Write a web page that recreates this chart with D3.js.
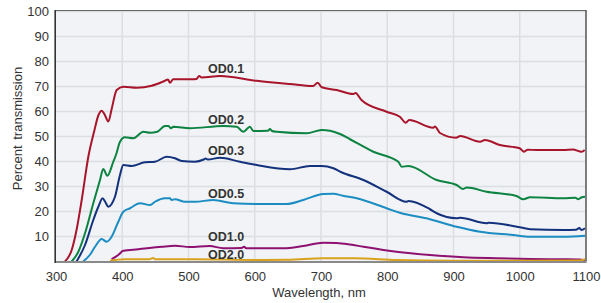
<!DOCTYPE html>
<html><head><meta charset="utf-8">
<script src="https://cdn.jsdelivr.net/npm/d3@7"></script>
<style>body{margin:0;background:#fff}svg{display:block}</style>
</head><body>
<svg id="c" width="601" height="303"></svg>
<script>
const xTicks = [300,400,500,600,700,800,900,1000,1100];
const yTicks = [10,20,30,40,50,60,70,80,90,100];
const seriesNames = ["OD0.1","OD0.2","OD0.3","OD0.5","OD1.0","OD2.0"];
const od01 = [[313.6,0],[323.7,4.6],[331,12.6],[338.8,24.6],[348.8,41.9],[358,52.5],[364,58.5],[369,60.3],[373,59],[379,56],[384,61],[391.6,68.6],[401.6,69.9],[421.8,69.5],[444.4,70.3],[464.5,72.3],[469,72.8],[472,71.5],[477,72.9],[504.8,72.9],[512,73],[516,74.2],[520,73.6],[547.5,74.2],[603,72.3],[653,71],[688,70.2],[695,71.5],[701,69.7],[723.7,68.6],[748.8,67],[752,67.4],[761,64.6],[799,59.9],[819,57.9],[828,55.5],[833,56.6],[869.5,53.5],[872,54],[879.6,51.4],[904,49.5],[910,50.2],[940,47.9],[947.5,48.6],[970,46.6],[1000,45.3],[1006,43.9],[1012,44.7],[1025.6,44.6],[1066,44.6],[1080,44.8],[1093.5,43.9],[1098,44.6]];
const od02 = [[323.7,0],[333.7,3.9],[343.8,11.3],[356.3,23.3],[366.4,32.6],[371.4,37],[377.4,34.3],[386.5,39.9],[391,43],[396.6,47.9],[404,49.7],[416.7,49.3],[431.8,51.9],[442,51.5],[453,51.9],[464.5,54.2],[469.5,54.2],[473.6,53.3],[477,53.9],[502,53.3],[552.5,54.2],[572.7,53.9],[582.7,51.9],[592.8,53.9],[597.8,52.2],[620,52.3],[623,53],[626,52.2],[633,51.9],[678.4,51.3],[701,52.6],[713.6,52.3],[728.7,51],[743.8,48.9],[779,43.9],[816.7,39.9],[821.8,37.9],[831.8,38.2],[874.6,32.6],[904.8,30.6],[914,29],[920,29.6],[950,27.9],[995,26.2],[1005.4,24.9],[1015.5,25.7],[1066,25.3],[1084,25.5],[1088.4,24.9],[1093,25.6],[1098.5,25.9]];
const od03 = [[331,0],[343.8,6.6],[356.3,16.6],[363.9,21.9],[370.4,25.3],[374,24],[379,21.9],[384,23],[389,25.9],[396.6,34.6],[401.6,38.6],[414.2,38.2],[434.3,39.7],[449.4,39.9],[467,41.9],[479.6,41.3],[489.7,40.2],[509.8,39.9],[523,40.8],[526,41.2],[529,40.8],[547.5,41.5],[577.7,39.9],[603,38.6],[653,36.9],[683.4,38.2],[701,38.2],[718.6,37.3],[730,35.8],[764,32.6],[799,27.9],[829,23.9],[832,24.2],[864.5,20.9],[874.6,19.3],[904.8,17.3],[910,17.5],[950,15.3],[953,15.5],[1000,13.7],[1015.5,12.9],[1066,12.6],[1085,12.7],[1090,13.4],[1093,12.6],[1098.5,13.3]];
const od05 = [[341,0],[351,2.6],[358.9,5.9],[369,9],[376.5,7.9],[384,9.9],[394,15.9],[401.6,19.9],[411.7,21.3],[426.8,23.3],[442,22.6],[449.4,23.9],[464.5,25.3],[472,25.3],[474.6,24.6],[479.6,24.9],[494.7,23.9],[509.8,23.9],[537.5,24.6],[567.7,23.3],[603,23],[648,23],[673.3,24.6],[703.5,27],[718.6,27.1],[733,26.3],[754,25.3],[799,21.3],[819,19.5],[864.5,16.9],[904.8,13.9],[940,11.9],[990,10.6],[1015.5,9.9],[1066,9.9],[1098.5,10.3]];
const od10 = [[384,0.9],[394,2.6],[401.6,4.3],[424,4.9],[459.5,5.9],[479.6,6.3],[502,5.8],[532,6.2],[552.5,5.3],[580,5.4],[584,5.9],[587,5.3],[643,5.3],[673.3,6.2],[703.5,7.5],[723.7,7.4],[743.8,6.8],[764,5.9],[814,3.9],[864.5,2.6],[915,1.7],[965,1.3],[1015.5,1],[1066,0.9],[1090,0.8],[1098.5,0.3]];
const od20 = [[381.5,0.3],[404,0.9],[440,0.9],[446.9,1.4],[450,0.9],[510,0.9],[600,0.6],[650,0.7],[703.5,1.3],[750,1.3],[814,0.6],[900,0.3],[1000,0.3],[1090,0.4],[1098.5,0.9]];
const seriesData = [od01,od02,od03,od05,od10,od20];
const colors = ["#a8142a","#0c8341","#13317c","#1b8dc2","#8e1172","#d9a21c"];
const labelPos = [[208,73],[208,124],[208,155],[208,198],[208,240.5],[208,258.5]];

const svg = d3.select("#c");
const x = d3.scaleLinear().domain([300,1100]).range([56,586]);
const y = d3.scaleLinear().domain([0,100]).range([261.5,11.5]);

svg.append("rect").attr("x",x(300)).attr("y",y(100)-1).attr("width",x(1100)-x(300)).attr("height",y(0)-y(100)+1).attr("fill","#f1f3f6");

const g = svg.append("g");
g.selectAll(".vg").data(xTicks.slice(1,-1)).join("line")
  .attr("x1",d=>x(d)).attr("x2",d=>x(d)).attr("y1",y(100)).attr("y2",y(0))
  .attr("stroke","#dcdee2").attr("stroke-width",1.5);
g.selectAll(".hg").data(yTicks).join("line")
  .attr("x1",x(300)).attr("x2",x(1100)).attr("y1",d=>y(d)).attr("y2",d=>y(d))
  .attr("stroke","#dcdee2").attr("stroke-width",1.5);

const line = d3.line().x(d=>x(d[0])).y(d=>y(d[1])).curve(d3.curveMonotoneX);
seriesData.forEach((s,i)=>{
  svg.append("path").datum(s).attr("d",line).attr("fill","none")
    .attr("stroke",colors[i]).attr("stroke-width",2).attr("stroke-linejoin","round");
});

// frame
svg.append("line").attr("x1",x(300)).attr("x2",x(1100)).attr("y1",y(100)-1).attr("y2",y(100)-1).attr("stroke","#666").attr("stroke-width",1);
svg.append("line").attr("x1",x(1100)).attr("x2",x(1100)).attr("y1",y(100)-1.5).attr("y2",y(0)).attr("stroke","#555").attr("stroke-width",1.5);
svg.append("line").attr("x1",x(300)-0.5).attr("x2",x(1100)+0.5).attr("y1",y(0)+0.5).attr("y2",y(0)+0.5).attr("stroke","#8a8a8a").attr("stroke-width",2.2);
svg.append("line").attr("x1",x(300)-0.8).attr("x2",x(300)-0.8).attr("y1",y(100)-1.5).attr("y2",y(0)+1.5).attr("stroke","#333").attr("stroke-width",1.6);

const font = "'Liberation Sans', Arial, sans-serif";
const xa = d3.axisBottom(x).tickValues(xTicks).tickSize(0).tickPadding(10).tickFormat(d3.format("d"));
const xg = svg.append("g").attr("transform",`translate(0,${y(0)})`).call(xa);
const ya = d3.axisLeft(y).tickValues(yTicks).tickSize(0).tickPadding(6).tickFormat(d3.format("d"));
const yg = svg.append("g").attr("transform",`translate(${x(300)-1},0)`).call(ya);
[xg,yg].forEach(a=>{a.select(".domain").remove(); a.selectAll("text").attr("font-family",font).attr("font-size",13).attr("fill","#333");});

svg.append("text").attr("x",319).attr("y",297).attr("text-anchor","middle")
  .attr("font-family",font).attr("font-size",13).attr("fill","#333").text("Wavelength, nm");
svg.append("text").attr("transform","translate(22,128.5) rotate(-90)").attr("text-anchor","middle")
  .attr("font-family",font).attr("font-size",13).attr("fill","#333").attr("word-spacing",2).text("Percent transmission");

svg.selectAll(".lbl").data(seriesNames).join("text")
  .attr("x",(d,i)=>labelPos[i][0]).attr("y",(d,i)=>labelPos[i][1])
  .attr("font-family",font).attr("font-size",12.5).attr("font-weight","bold").attr("fill","#333").text(d=>d);
</script>
</body></html>
